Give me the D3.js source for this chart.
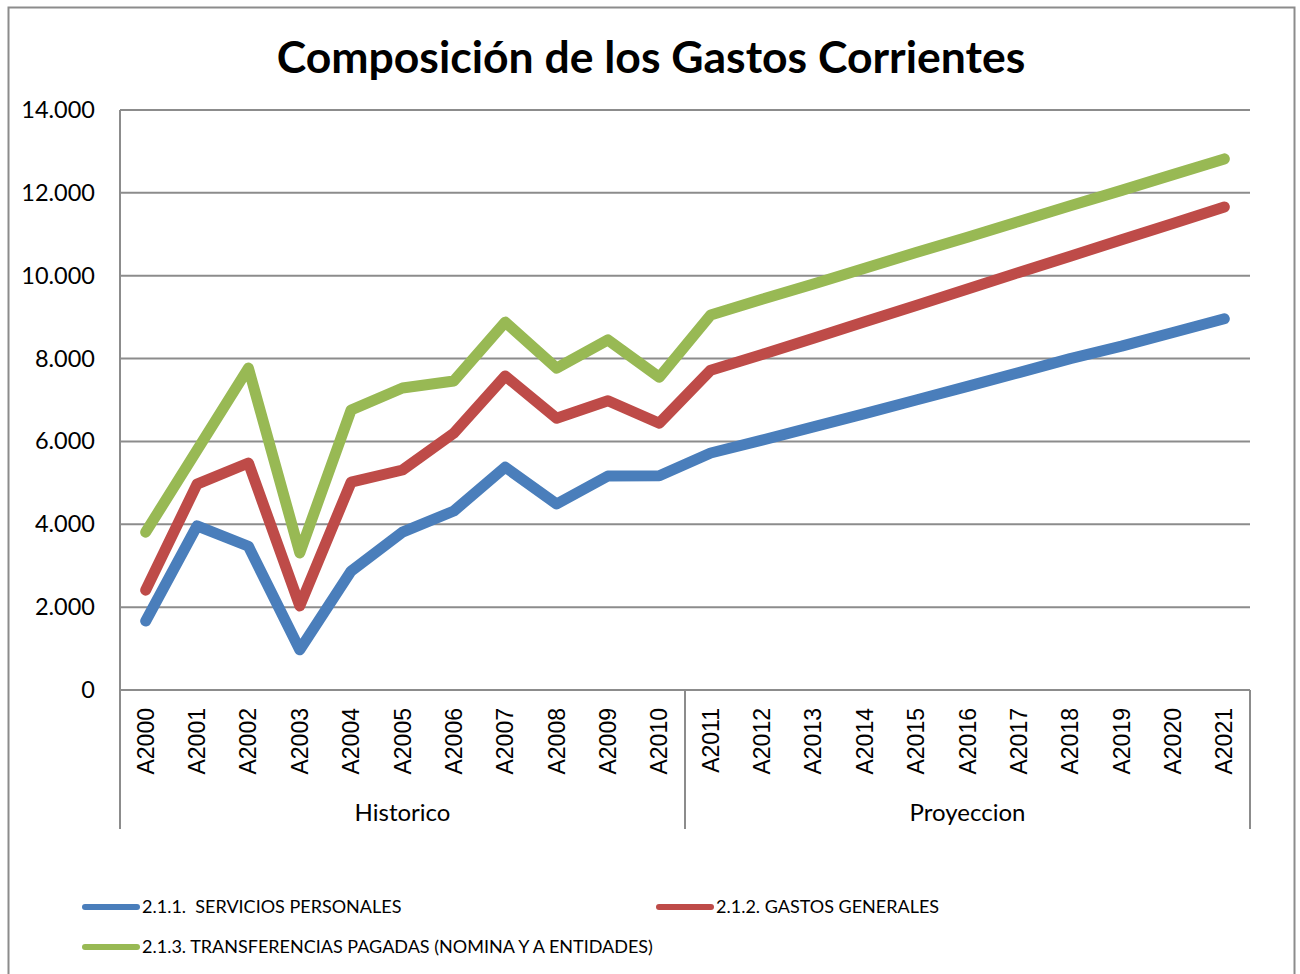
<!DOCTYPE html>
<html>
<head>
<meta charset="utf-8">
<script src="https://cdn.jsdelivr.net/npm/d3@7"></script>
<style>
  body { margin: 0; background: #fff; }
  svg { display: block; }
  text { white-space: pre; }
</style>
</head>
<body>
<div id="graph"></div>
<script>
// categories + groups
var years = ["A2000","A2001","A2002","A2003","A2004","A2005","A2006","A2007","A2008","A2009","A2010",
             "A2011","A2012","A2013","A2014","A2015","A2016","A2017","A2018","A2019","A2020","A2021"];
var groups = [{name: "Historico", from: "A2000", to: "A2010"}, {name: "Proyeccion", from: "A2011", to: "A2021"}];
var yTicks = [0, 2000, 4000, 6000, 8000, 10000, 12000, 14000];

// series values
var serviciosPersonales = [1665, 3960, 3470, 970, 2870, 3810, 4320, 5380, 4490, 5165, 5170,
                           5720, 6030, 6350, 6670, 7000, 7330, 7660, 8000, 8300, 8630, 8960];
var gastosGenerales = [2410, 4970, 5480, 2030, 5020, 5310, 6200, 7580, 6560, 6980, 6440,
                       7720, 8100, 8490, 8890, 9280, 9680, 10080, 10470, 10870, 11260, 11660];
var transferencias = [3810, 5790, 7770, 3310, 6760, 7290, 7460, 8880, 7770, 8450, 7550,
                      9050, 9430, 9800, 10180, 10560, 10930, 11310, 11690, 12060, 12440, 12820];

var seriesNames = ["2.1.1.  SERVICIOS PERSONALES", "2.1.2. GASTOS GENERALES",
                   "2.1.3. TRANSFERENCIAS PAGADAS (NOMINA Y A ENTIDADES)"];
var seriesColors = ["#4a7ebb", "#be4b48", "#98b954"];

var series = [serviciosPersonales, gastosGenerales, transferencias].map(function (v, i) {
    return {name: seriesNames[i], color: seriesColors[i], values: v};
});

var width = 1300, height = 974;
var plotLeft = 120, plotRight = 1250, plotTop = 110, plotBottom = 690, axisBottom = 829;
var gridColor = "#8c8c8c";
var calibri = "Lato, 'Open Sans', sans-serif";

var svg = d3.select("#graph").append("svg")
        .attr("width", width)
        .attr("height", height);

// outer frame
svg.append("rect")
        .attr("x", 8.5).attr("y", 7.5)
        .attr("width", 1286).attr("height", 990)
        .attr("fill", "none")
        .attr("stroke", "#8c8c8c")
        .attr("stroke-width", 2);

svg.append("text")
        .attr("x", 651).attr("y", 73)
        .attr("text-anchor", "middle")
        .style("font-family", calibri)
        .style("font-weight", "bold")
        .style("font-size", "44.5px")
        .text("Composición de los Gastos Corrientes");

var x = d3.scaleBand().domain(years).range([plotLeft, plotRight]);
var y = d3.scaleLinear().domain([0, 14000]).range([plotBottom, plotTop]);

var fmt = function (d) { return d === 0 ? "0" : d3.format(",")(d).replace(/,/g, "."); };

// gridlines
svg.append("g")
        .selectAll("line")
        .data(yTicks)
        .enter().append("line")
        .attr("x1", plotLeft).attr("x2", plotRight)
        .attr("y1", function (d) { return y(d); })
        .attr("y2", function (d) { return y(d); })
        .attr("stroke", gridColor)
        .attr("stroke-width", 2);

// y axis
var yAxis = d3.axisLeft(y).tickValues(yTicks).tickFormat(fmt).tickSize(0).tickPadding(25);
var yg = svg.append("g").attr("transform", "translate(" + plotLeft + ",0)").call(yAxis);
yg.select(".domain").remove();
yg.selectAll("text")
        .style("font-family", calibri)
        .style("font-size", "23.5px")
        .attr("fill", "#000");

svg.append("line")
        .attr("x1", plotLeft).attr("x2", plotLeft)
        .attr("y1", plotTop).attr("y2", axisBottom)
        .attr("stroke", gridColor).attr("stroke-width", 2);

// category labels (rotated)
var xAxis = d3.axisBottom(x).tickSize(0).tickPadding(0);
var xg = svg.append("g").attr("transform", "translate(0," + plotBottom + ")").call(xAxis);
xg.select(".domain").remove();
xg.selectAll("text")
        .attr("transform", "rotate(-90)")
        .attr("x", -18)
        .attr("y", 0)
        .attr("dy", "0.35em")
        .attr("text-anchor", "end")
        .style("font-family", "'Liberation Sans', Arial, sans-serif")
        .style("font-size", "23px")
        .attr("fill", "#000");

// group separators + labels
var groupEdges = [plotLeft, x(groups[0].to) + x.bandwidth(), plotRight];
svg.append("g").selectAll("line")
        .data(groupEdges)
        .enter().append("line")
        .attr("x1", function (d) { return d; })
        .attr("x2", function (d) { return d; })
        .attr("y1", plotBottom).attr("y2", axisBottom)
        .attr("stroke", gridColor).attr("stroke-width", 2);

svg.append("g").selectAll("text")
        .data(groups)
        .enter().append("text")
        .attr("x", function (d) { return (x(d.from) + x(d.to) + x.bandwidth()) / 2; })
        .attr("y", 821)
        .attr("text-anchor", "middle")
        .style("font-family", calibri)
        .style("font-size", "24px")
        .text(function (d) { return d.name; });

// lines
var line = d3.line()
        .x(function (d, i) { return x(years[i]) + x.bandwidth() / 2; })
        .y(function (d) { return y(d); });

svg.append("g").selectAll("path")
        .data(series)
        .enter().append("path")
        .attr("d", function (d) { return line(d.values); })
        .attr("fill", "none")
        .attr("stroke", function (d) { return d.color; })
        .attr("stroke-width", 11)
        .attr("stroke-linecap", "round")
        .attr("stroke-linejoin", "round");

// legend
var legendPos = [[85, 907], [659, 907], [85, 947]];
var lg = svg.append("g").selectAll("g")
        .data(series)
        .enter().append("g")
        .attr("transform", function (d, i) { return "translate(" + legendPos[i][0] + "," + legendPos[i][1] + ")"; });

lg.append("line")
        .attr("x1", 0).attr("x2", 52)
        .attr("stroke", function (d) { return d.color; })
        .attr("stroke-width", 6)
        .attr("stroke-linecap", "round");

lg.append("text")
        .attr("x", 57)
        .attr("dy", "0.35em")
        .style("font-family", calibri)
        .style("font-size", "18px")
        .text(function (d) { return d.name; });
</script>
</body>
</html>
